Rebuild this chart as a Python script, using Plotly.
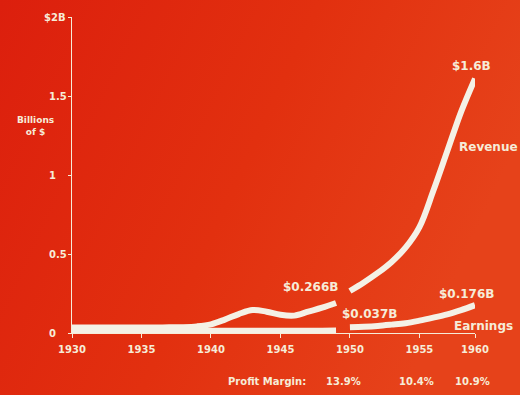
import base64
import plotly.graph_objects as go

# Revenue and earnings, billions of dollars
years_early = [1930, 1931, 1932, 1933, 1934, 1935, 1936, 1937, 1938, 1939,
               1940, 1941, 1942, 1943, 1944, 1945, 1946, 1947, 1948, 1949]
revenue_early = [0.035, 0.035, 0.035, 0.035, 0.035, 0.035, 0.035, 0.036, 0.037, 0.042,
                 0.055, 0.085, 0.12, 0.145, 0.135, 0.115, 0.11, 0.135, 0.16, 0.19]
earnings_early = [0.014, 0.014, 0.014, 0.014, 0.014, 0.014, 0.014, 0.014, 0.014, 0.014,
                  0.014, 0.014, 0.014, 0.014, 0.014, 0.014, 0.014, 0.014, 0.015, 0.016]

years_late = [1950, 1951, 1952, 1953, 1954, 1955, 1956, 1957, 1958, 1959]
revenue_late = [0.266, 0.32, 0.38, 0.45, 0.54, 0.67, 0.90, 1.15, 1.40, 1.61]
earnings_late = [0.037, 0.040, 0.045, 0.053, 0.062, 0.078, 0.097, 0.118, 0.145, 0.176]

x_ticks = [1930, 1935, 1940, 1945, 1950, 1955, 1959]
x_tick_text = ["1930", "1935", "1940", "1945", "1950", "1955", "1960"]
y_ticks = [0, 0.5, 1, 1.5, 2]
y_tick_text = ["0", "0.5", "1", "1.5", "$2B"]

margin_years = [1950, 1955, 1959]
margin_text = ["13.9%", "10.4%", "10.9%"]

BG = "#e22c10"
INK = "#f6ecd8"
LINE = "#f4f1e6"
FONT = "DejaVu Sans"

# red-to-orange backdrop
svg = (
    '<svg xmlns="http://www.w3.org/2000/svg" width="520" height="395">'
    '<defs><linearGradient id="g" x1="0" y1="0" x2="1" y2="0.35">'
    '<stop offset="0" stop-color="#dc1f0d"/>'
    '<stop offset="0.55" stop-color="#e2300f"/>'
    '<stop offset="1" stop-color="#e6421a"/>'
    '</linearGradient></defs>'
    '<rect width="520" height="395" fill="url(#g)"/></svg>'
)
bg_src = "data:image/svg+xml;base64," + base64.b64encode(svg.encode()).decode()

fig = go.Figure()

for xs, ys in [(years_early, earnings_early), (years_early, revenue_early),
               (years_late, earnings_late), (years_late, revenue_late)]:
    fig.add_trace(go.Scatter(
        x=xs, y=ys, mode="lines",
        line=dict(color=LINE, width=6, shape="spline", smoothing=1.0),
        cliponaxis=False, hoverinfo="skip", showlegend=False,
    ))

lab = dict(size=12, color=INK, family=FONT, weight="bold")

def note(x, y, text, xanchor="center", xshift=0, yshift=0, size=12):
    fig.add_annotation(x=x, y=y, text=text, showarrow=False, xanchor=xanchor,
                       yanchor="middle", xshift=xshift, yshift=yshift,
                       font=dict(lab, size=size))

# value callouts
note(years_late[-1], revenue_late[-1], f"${revenue_late[-1]:.1f}B", xshift=-4, yshift=13)
note(years_late[-1], revenue_late[-1], "Revenue", xanchor="left", xshift=-18, yshift=-68)
note(years_late[0], revenue_late[0], f"${revenue_late[0]:.3f}B", xanchor="right", xshift=-10, yshift=4)
note(years_late[0], earnings_late[0], f"${earnings_late[0]:.3f}B", xanchor="left", xshift=-10, yshift=13)
note(years_late[-1], earnings_late[-1], f"${earnings_late[-1]:.3f}B", xshift=-9, yshift=11)
note(years_late[-1], earnings_late[-1], "Earnings", xanchor="left", xshift=-23, yshift=-21)

# left-aligned value scale
for v, t in zip(y_ticks, y_tick_text):
    fig.add_annotation(x=0, xref="paper", y=v, text=t, showarrow=False,
                       xanchor="left", yanchor="middle",
                       xshift=-(30 if t.startswith("$") else 25),
                       font=dict(lab, size=10))

fig.add_annotation(x=0, xref="paper", y=1.31, text="Billions<br>of $", showarrow=False,
                   xanchor="center", yanchor="middle", xshift=-37,
                   font=dict(lab, size=9))

# profit margin row
fig.add_annotation(x=margin_years[0], y=0, text="Profit Margin:", showarrow=False,
                   xanchor="right", yanchor="middle", xshift=-42, yshift=-48,
                   font=dict(lab, size=10))
for yr, t in zip(margin_years, margin_text):
    fig.add_annotation(x=yr, y=0, text=t, showarrow=False, xanchor="center",
                       yanchor="middle", xshift=-6 if yr == 1950 else -3, yshift=-48,
                       font=dict(lab, size=10))

fig.update_layout(
    width=520, height=395,
    margin=dict(l=72, r=45, t=17, b=62),
    paper_bgcolor=BG, plot_bgcolor="rgba(0,0,0,0)",
    showlegend=False,
    images=[dict(source=bg_src, xref="paper", yref="paper", x=-72 / 403, y=1 + 17 / 316,
                 sizex=520 / 403, sizey=395 / 316, xanchor="left", yanchor="top",
                 sizing="stretch", layer="below")],
    xaxis=dict(range=[1930, 1959], tickvals=x_ticks, ticktext=x_tick_text,
               showgrid=False, zeroline=False, showline=True, linecolor=INK, linewidth=1,
               ticks="outside", ticklen=4, tickcolor=INK, ticklabelstandoff=3,
               tickfont=dict(size=10, color=INK, family=FONT, weight="bold")),
    yaxis=dict(range=[0, 2], tickvals=y_ticks, showticklabels=False,
               showgrid=False, zeroline=False, showline=True, linecolor=INK, linewidth=1,
               ticks="outside", ticklen=3, tickcolor=INK),
)

fig.write_html("out.html")
